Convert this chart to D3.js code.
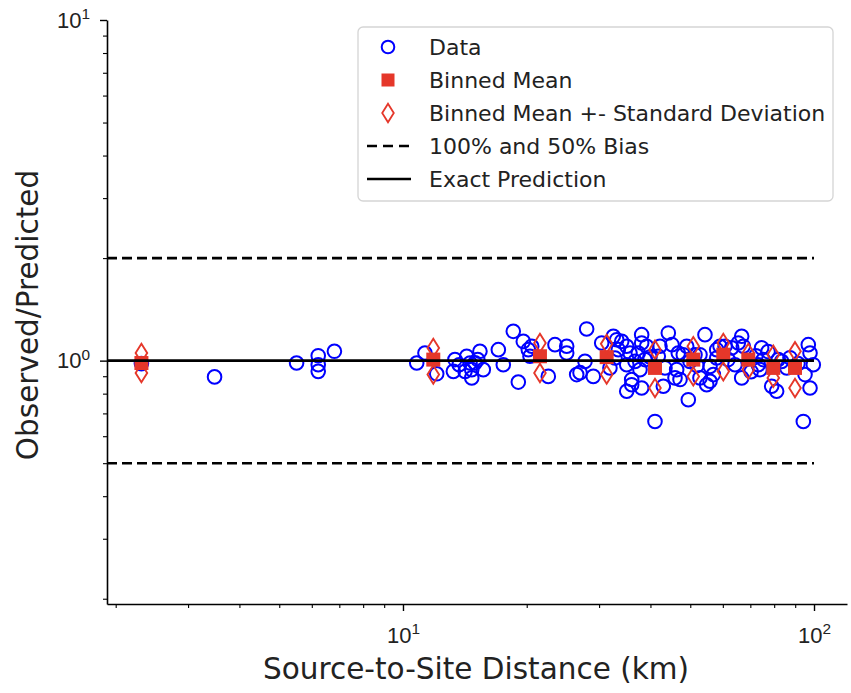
<!DOCTYPE html>
<html>
<head>
<meta charset="utf-8">
<script src="https://cdn.jsdelivr.net/npm/d3@7"></script>
<style>
    body { margin: 0; background: #ffffff; }
    svg { display: block; font-family: "DejaVu Sans", sans-serif; }
</style>
</head>
<body>
<svg id="chart" width="851" height="693"></svg>
<script>
// Observed data: distance (km) and observed/predicted ratio
const dataDistance = [
    2.31, 3.48, 5.51, 6.22, 6.22, 6.22, 6.81,
    10.80, 11.31, 12.08, 13.38, 13.26, 14.29, 14.56, 14.70, 14.70, 15.39, 15.68, 14.97, 14.16,
    17.06, 17.54, 18.55, 19.62, 20.18, 20.37, 19.08, 15.2, 13.7,
    20.57, 23.43, 25.02, 25.02, 22.57, 26.46, 27.72, 27.98, 29.04, 26.96, 30.44,
    32.49, 33.11, 34.05, 35.02, 33.41, 35.67, 35.02, 35.02, 36.01, 36.01,
    38.08, 38.08, 37.37, 37.72, 38.08, 39.16, 38.79, 42.20, 41.80, 42.99,
    44.21, 41.03, 46.75, 46.33, 47.21, 49.01, 49.45, 51.34, 43.40, 45.90,
    48.08, 52.79, 52.79, 32.80,
    54.29, 54.81, 56.89, 57.98, 57.98, 59.07, 55.85, 55.85, 63.06, 66.69,
    67.30, 66.69, 65.43, 64.23, 60.74, 73.87, 74.57, 75.25, 73.17, 81.11,
    83.42, 85.83, 78.88, 81.84, 94.19, 96.85, 97.79, 97.79, 99.6, 95.09,
    87.4, 77.3, 91.4, 72.2, 70.3,
    31.88, 39.89, 45.14, 49.92, 36.69, 51.9, 61.8
];
const dataRatio = [
    0.980, 0.896, 0.984, 1.034, 0.973, 0.930, 1.065,
    0.984, 1.053, 0.915, 1.007, 0.930, 1.030, 0.984, 0.941, 0.890, 1.065, 0.941, 0.985, 0.930,
    1.077, 0.973, 1.219, 1.139, 1.077, 1.030, 0.865, 1.007, 0.973,
    1.102, 1.114, 1.102, 1.053, 0.899, 0.910, 0.995, 1.239, 0.899, 0.922, 1.127,
    1.179, 1.152, 1.139, 1.102, 1.077, 1.053, 0.973, 0.813, 0.880, 0.850,
    1.192, 1.127, 1.053, 0.941, 0.831, 1.102, 1.007, 1.102, 1.030, 0.841,
    1.206, 0.663, 1.053, 0.941, 0.880, 1.102, 0.768, 1.041, 0.952, 0.890,
    1.041, 1.041, 0.890, 1.018,
    1.192, 0.850, 0.910, 1.077, 1.018, 1.102, 0.962, 0.870, 1.090, 1.179,
    1.102, 0.890, 1.127, 0.973, 1.102, 0.941, 1.090, 1.007, 0.973, 0.813,
    0.995, 0.952, 0.841, 1.007, 0.663, 1.114, 1.053, 0.831, 0.973, 0.910,
    1.020, 1.063, 0.980, 1.034, 0.928,
    0.952, 1.025, 1.114, 0.995, 0.995, 0.967, 1.007
];

// Binned statistics
const binDistance = [2.31, 11.85, 21.54, 31.30, 41.03, 50.85, 60.16, 69.2, 79.6, 89.9];
const binMean = [0.984, 1.007, 1.030, 1.024, 0.952, 1.007, 1.041, 1.007, 0.952, 0.952];
const binUpper = [1.053, 1.090, 1.127, 1.120, 1.077, 1.102, 1.127, 1.053, 1.041, 1.065];
const binLower = [0.920, 0.910, 0.920, 0.910, 0.831, 0.899, 0.930, 0.941, 0.890, 0.831];

// Reference lines
const biasLevels = [2, 0.5];
const exactLevel = 1;
const lineEnd = 100;

// Axis ticks
const xMajorTicks = [10, 100];
const xMinorTicks = [2, 3, 4, 5, 6, 7, 8, 9, 20, 30, 40, 50, 60, 70, 80, 90];
const yMajorTicks = [1, 10];
const yMinorTicks = [0.2, 0.3, 0.4, 0.5, 0.6, 0.7, 0.8, 0.9, 2, 3, 4, 5, 6, 7, 8, 9];

const legendLabels = [
    'Data',
    'Binned Mean',
    'Binned Mean +- Standard Deviation',
    '100% and 50% Bias',
    'Exact Prediction'
];

const BLUE = '#0000ff';
const RED = '#e5372a';

const svg = d3.select('#chart');

// Plot area
const plotLeft = 107, plotRight = 847, plotTop = 20, plotBottom = 604;

const x = d3.scaleLog().domain([1.905, 120.3]).range([plotLeft, plotRight]);
const y = d3.scaleLog().domain([0.193, 10]).range([plotBottom, plotTop]);

// Superscript label "10^n"
function powerLabel(sel) {
    sel.each(function(d) {
        const t = d3.select(this);
        t.text(null);
        t.append('tspan').text('10');
        t.append('tspan')
            .attr('dy', '-0.55em')
            .attr('font-size', '0.7em')
            .text(Math.round(Math.log10(d)));
    });
}

// Minor ticks
svg.append('g')
    .attr('transform', `translate(0,${plotBottom})`)
    .call(d3.axisBottom(x).tickValues(xMinorTicks).tickSize(4).tickFormat(''))
    .call(g => g.select('.domain').remove())
    .call(g => g.selectAll('line').attr('stroke-width', 1.1));

svg.append('g')
    .attr('transform', `translate(${plotLeft},0)`)
    .call(d3.axisLeft(y).tickValues(yMinorTicks).tickSize(4).tickFormat(''))
    .call(g => g.select('.domain').remove())
    .call(g => g.selectAll('line').attr('stroke-width', 1.1));

// Major ticks
const xAxis = svg.append('g')
    .attr('transform', `translate(0,${plotBottom})`)
    .call(d3.axisBottom(x).tickValues(xMajorTicks).tickSize(7).tickSizeOuter(0).tickPadding(16));
xAxis.select('.domain').attr('stroke-width', 1.6);
xAxis.selectAll('line').attr('stroke-width', 1.4);
xAxis.selectAll('text').style('font-size', '22px').attr('fill', '#222').call(powerLabel);

const yAxis = svg.append('g')
    .attr('transform', `translate(${plotLeft},0)`)
    .call(d3.axisLeft(y).tickValues(yMajorTicks).tickSize(7).tickSizeOuter(0).tickPadding(10));
yAxis.select('.domain').attr('stroke-width', 1.6);
yAxis.selectAll('line').attr('stroke-width', 1.4);
yAxis.selectAll('text').style('font-size', '22px').attr('fill', '#222').call(powerLabel);

// Axis labels
svg.append('text')
    .attr('x', 476)
    .attr('y', 679)
    .attr('text-anchor', 'middle')
    .attr('font-size', 29.5)
    .attr('fill', '#222')
    .text('Source-to-Site Distance (km)');

svg.append('text')
    .attr('transform', `translate(38,${315}) rotate(-90)`)
    .attr('text-anchor', 'middle')
    .attr('font-size', 29.5)
    .attr('fill', '#222')
    .text('Observed/Predicted');

// Data points
const points = dataDistance.map((d, i) => ({ x: d, y: dataRatio[i] }));
svg.append('g')
    .selectAll('circle')
    .data(points)
    .enter()
    .append('circle')
    .attr('cx', d => x(d.x))
    .attr('cy', d => y(d.y))
    .attr('r', 6.8)
    .attr('fill', 'none')
    .attr('stroke', BLUE)
    .attr('stroke-width', 2);

// Binned means
const bins = binDistance.map((d, i) => ({ x: d, mean: binMean[i], up: binUpper[i], lo: binLower[i] }));
const sq = 14;
svg.append('g')
    .selectAll('rect')
    .data(bins)
    .enter()
    .append('rect')
    .attr('x', d => x(d.x) - sq / 2)
    .attr('y', d => y(d.mean) - sq / 2)
    .attr('width', sq)
    .attr('height', sq)
    .attr('fill', RED);

// Diamonds for mean +- std
function diamond(cx, cy) {
    const w = 5.8, h = 9.2;
    return `M${cx},${cy - h}L${cx + w},${cy}L${cx},${cy + h}L${cx - w},${cy}Z`;
}
const stdPoints = bins.flatMap(d => [{ x: d.x, y: d.up }, { x: d.x, y: d.lo }]);
svg.append('g')
    .selectAll('path')
    .data(stdPoints)
    .enter()
    .append('path')
    .attr('d', d => diamond(x(d.x), y(d.y)))
    .attr('fill', 'none')
    .attr('stroke', RED)
    .attr('stroke-width', 1.9);

// Bias lines and exact prediction line
const xStart = x.domain()[0];
svg.append('g')
    .selectAll('line')
    .data(biasLevels)
    .enter()
    .append('line')
    .attr('x1', x(xStart))
    .attr('x2', x(lineEnd))
    .attr('y1', d => y(d))
    .attr('y2', d => y(d))
    .attr('stroke', '#000')
    .attr('stroke-width', 2.6)
    .attr('stroke-dasharray', '10,5');

svg.append('line')
    .attr('x1', x(xStart))
    .attr('x2', x(lineEnd))
    .attr('y1', y(exactLevel))
    .attr('y2', y(exactLevel))
    .attr('stroke', '#000')
    .attr('stroke-width', 2.6);

// Legend
const legend = svg.append('g').attr('transform', 'translate(358,27)');
legend.append('rect')
    .attr('width', 475)
    .attr('height', 174)
    .attr('rx', 5)
    .attr('fill', '#fff')
    .attr('fill-opacity', 0.85)
    .attr('stroke', '#d5d5d5')
    .attr('stroke-width', 1.3);

const rowY = i => 20 + i * 33;
legendLabels.forEach((label, i) => {
    legend.append('text')
        .attr('x', 71)
        .attr('y', rowY(i))
        .attr('dy', '0.35em')
        .attr('font-size', 22)
        .attr('fill', '#222')
        .text(label);
});

legend.append('circle')
    .attr('cx', 30).attr('cy', rowY(0)).attr('r', 6.3)
    .attr('fill', 'none').attr('stroke', BLUE).attr('stroke-width', 2);
legend.append('rect')
    .attr('x', 30 - 6.5).attr('y', rowY(1) - 6.5)
    .attr('width', 13).attr('height', 13).attr('fill', RED);
legend.append('path')
    .attr('d', diamond(30, rowY(2)))
    .attr('fill', 'none').attr('stroke', RED).attr('stroke-width', 1.8);
legend.append('line')
    .attr('x1', 9).attr('x2', 53).attr('y1', rowY(3)).attr('y2', rowY(3))
    .attr('stroke', '#000').attr('stroke-width', 2.6).attr('stroke-dasharray', '10,6');
legend.append('line')
    .attr('x1', 9).attr('x2', 53).attr('y1', rowY(4)).attr('y2', rowY(4))
    .attr('stroke', '#000').attr('stroke-width', 2.6);
</script>
</body>
</html>
